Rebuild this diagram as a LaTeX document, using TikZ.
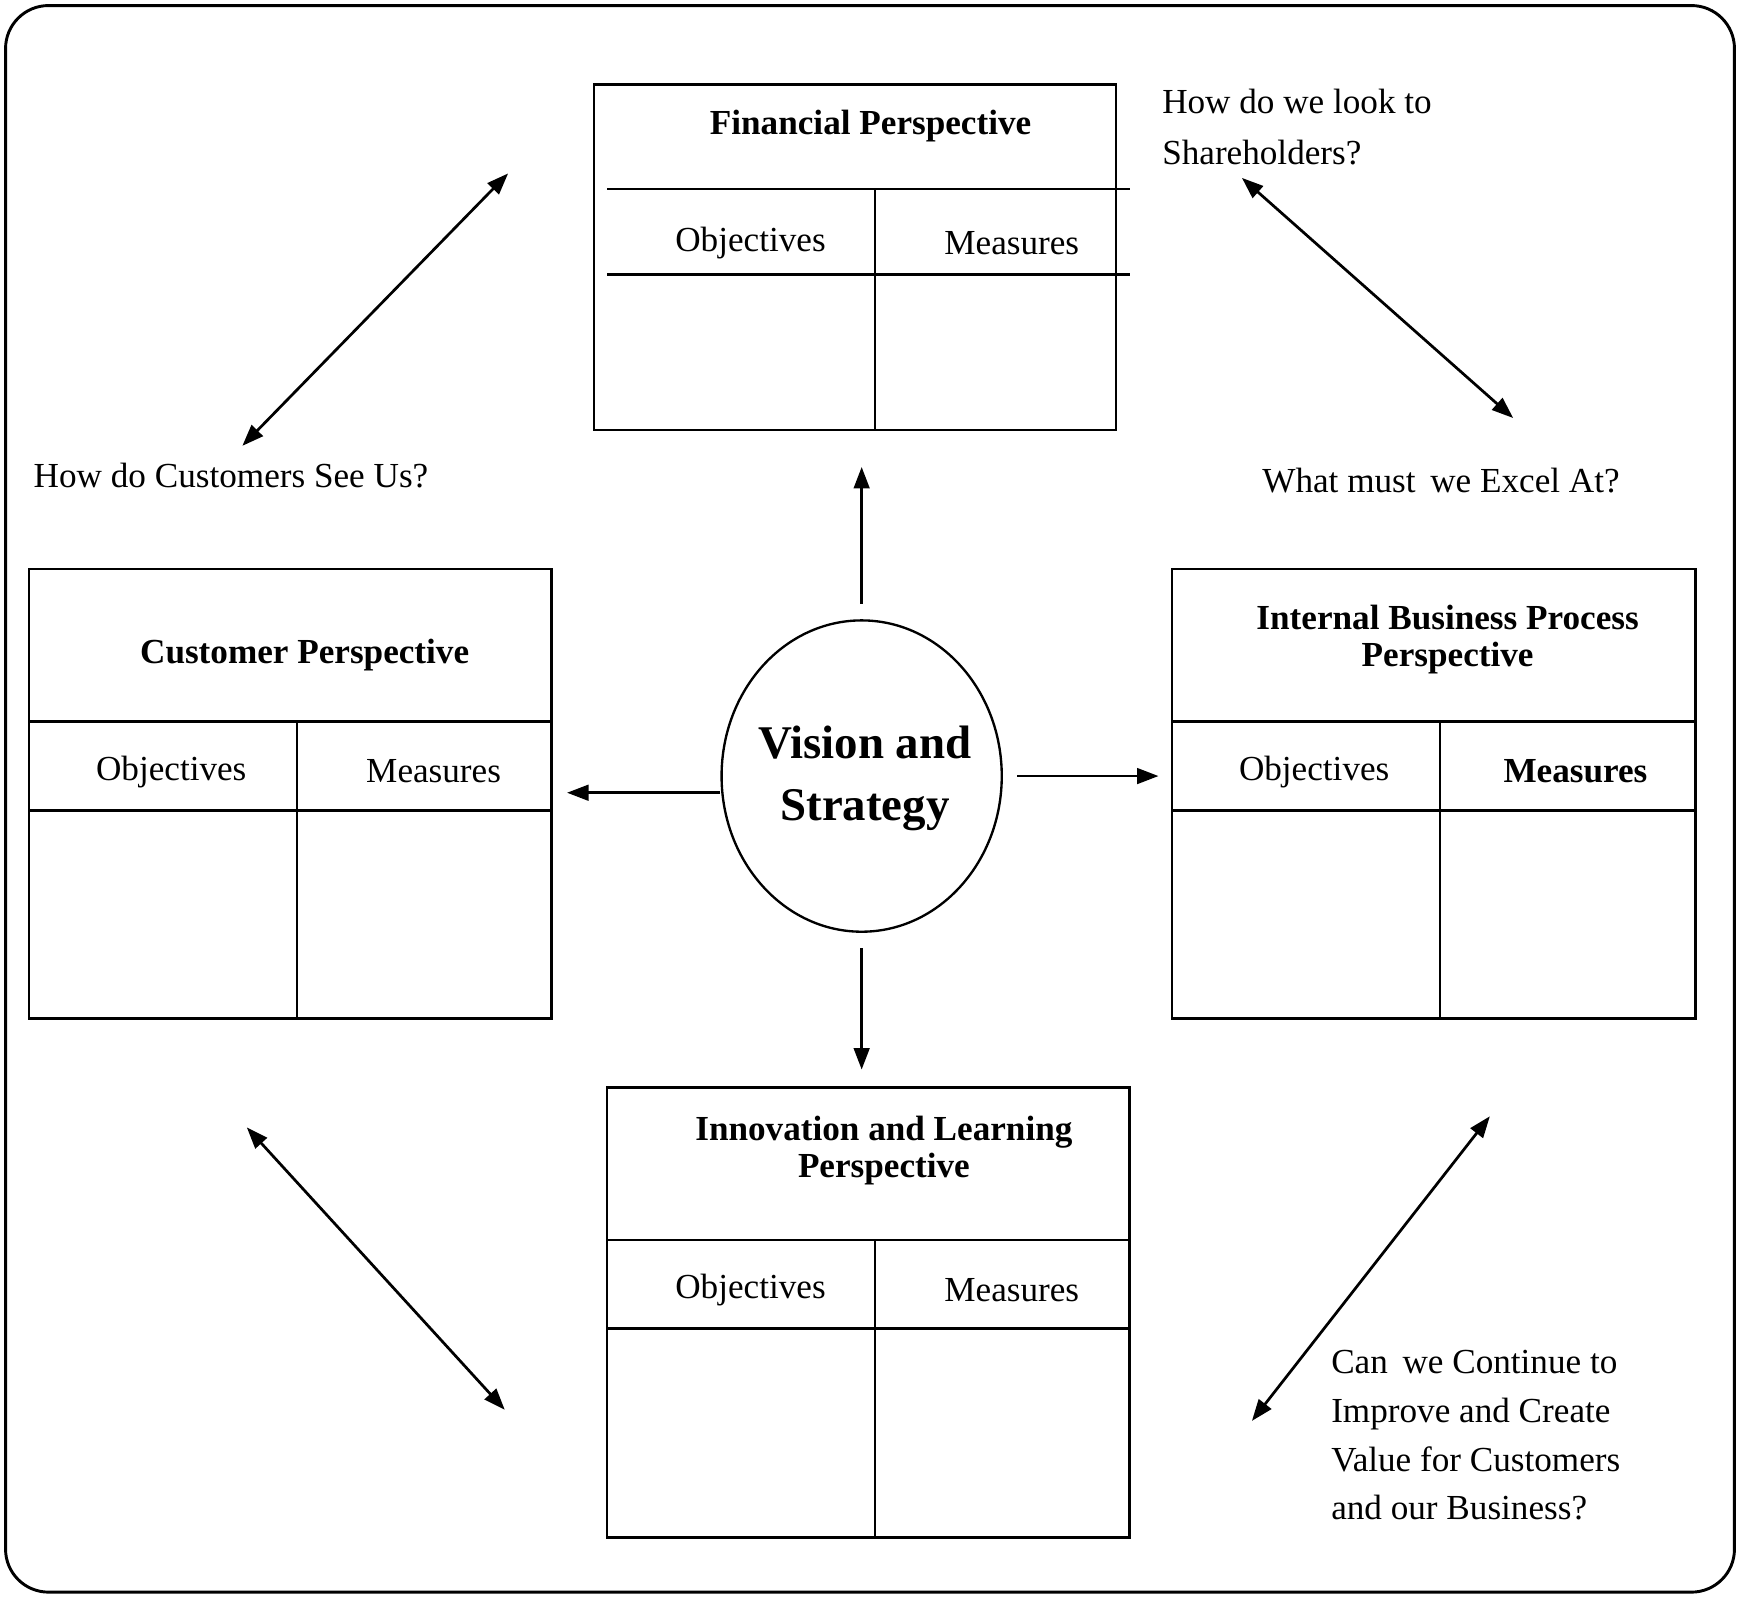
\documentclass[tikz,border=0pt]{standalone}
\usepackage{fontspec}
\setmainfont{Liberation Serif}
\usetikzlibrary{arrows.meta}
\begin{document}
\begin{tikzpicture}[x=0.02cm,y=-0.02cm,
  box/.style={draw,line width=1.2pt},
  ln/.style={line width=1.2pt},
  arr/.style={line width=1.4pt,-{Triangle[length=11pt,width=8pt]}},
  darr/.style={line width=1.4pt,{Triangle[length=11pt,width=8pt]}-{Triangle[length=11pt,width=8pt]}},
  ttl/.style={font=\fontsize{18}{19}\selectfont\bfseries,align=center},
  lbl/.style={font=\fontsize{18}{20}\selectfont},
  q/.style={font=\fontsize{18}{26}\selectfont,align=left,anchor=north west,inner sep=0pt}]
\useasboundingbox (0,0) rectangle (1565,1436);
\draw[line width=1.5pt,rounded corners=22] (5,5) rectangle (1560,1432);
% Financial
\draw[box] (534,76) rectangle (1004,387);
\draw[ln] (546,170) -- (1016,170); \draw[ln] (546,247) -- (1016,247); \draw[ln] (787,170) -- (787,387);
\node[ttl] (fin) at (783,113) {Financial Perspective};
\node[lbl] (fo) at (675,219) {Objectives};
\node[lbl] (fm) at (910,219) {Measures};
% Customer
\draw[box] (26,512) rectangle (496,916);
\draw[ln] (26,649) -- (496,649); \draw[ln] (26,729) -- (496,729); \draw[ln] (267,649) -- (267,916);
\node[ttl] (cus) at (274,589) {Customer Perspective};
\node[lbl] (co) at (154,694) {Objectives};
\node[lbl] (cm) at (390,694) {Measures};
% Internal
\draw[box] (1054,512) rectangle (1525,916);
\draw[ln] (1054,649) -- (1525,649); \draw[ln] (1054,729) -- (1525,729); \draw[ln] (1295,649) -- (1295,916);
\node[ttl] (int) at (1302,575) {Internal Business Process\\Perspective};
\node[lbl] (io) at (1182,694) {Objectives};
\node[lbl,font=\fontsize{18}{20}\selectfont\bfseries] (im) at (1417,694) {Measures};
% Innovation
\draw[box] (546,978) rectangle (1016,1383);
\draw[ln] (546,1115) -- (1016,1115); \draw[ln] (546,1195) -- (1016,1195); \draw[ln] (787,1115) -- (787,1383);
\node[ttl] (inn) at (795,1035) {Innovation and Learning\\Perspective};
\node[lbl] (no) at (675,1160) {Objectives};
\node[lbl] (nm) at (910,1160) {Measures};
% Center
\draw[line width=1.2pt] (775,698) ellipse [x radius=126,y radius=140];
\node[font=\fontsize{24}{32}\selectfont\bfseries,align=center] (vt) at (778,700) {Vision and\\Strategy};
% arrows
\coordinate (u1) at (775,543); \coordinate (u2) at (775,420);
\coordinate (d1) at (775,853); \coordinate (d2) at (775,962);
\coordinate (l1) at (648,713); \coordinate (l2) at (510,713);
\coordinate (r1) at (915,698); \coordinate (r2) at (1042,698);
\draw[arr] (u1) -- (u2); \draw[arr] (d1) -- (d2); \draw[arr] (l1) -- (l2); \draw[arr] (r1) -- (r2);
\coordinate (a1) at (218,401); \coordinate (a2) at (457,156);
\coordinate (b1) at (1117,160); \coordinate (b2) at (1361,376);
\coordinate (c1) at (222,1014); \coordinate (c2) at (454,1268);
\coordinate (e1) at (1126,1278); \coordinate (e2) at (1340,1004);
\draw[darr] (a1) -- (a2); \draw[darr] (b1) -- (b2); \draw[darr] (c1) -- (c2); \draw[darr] (e1) -- (e2);
% questions
\node[q] (qs) at (1045,80) {How do we look to\\Shareholders?};
\node[q] (qc) at (30,416) {How do Customers See Us?};
\node[q] (qe) at (1135,421) {What must\, we Excel At?};
\node[q,font=\fontsize{18}{25}\selectfont] (qi) at (1197,1214) {Can\, we Continue to\\Improve and Create\\Value for Customers\\and our Business?};
\end{tikzpicture}
\end{document}
